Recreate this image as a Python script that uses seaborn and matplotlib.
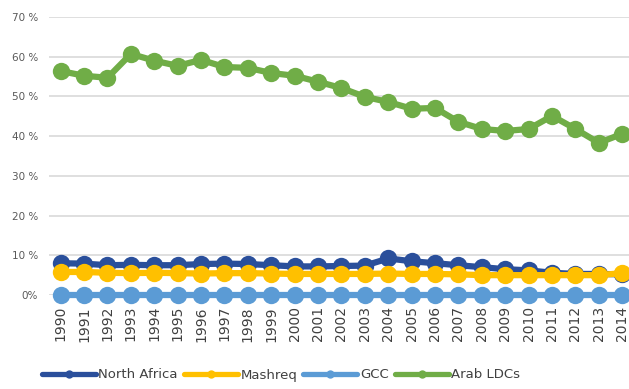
import matplotlib
matplotlib.use("Agg")
import matplotlib.pyplot as plt
import seaborn as sns
import pandas as pd
from matplotlib.lines import Line2D

years = list(range(1990, 2015))
north_africa = [8.0, 7.9, 7.5, 7.6, 7.5, 7.5, 7.8, 7.9, 7.8, 7.5, 7.2, 7.2, 7.3, 7.4,
                9.2, 8.5, 8.0, 7.5, 7.0, 6.5, 6.2, 5.6, 5.3, 5.3, 5.2]
mashreq = [5.8, 5.8, 5.6, 5.5, 5.6, 5.5, 5.4, 5.5, 5.5, 5.4, 5.3, 5.3, 5.3, 5.3,
           5.4, 5.3, 5.3, 5.2, 5.0, 5.0, 5.0, 5.0, 5.0, 5.0, 5.5]
gcc = [0.0] * 25
arab_ldcs = [56.4, 55.2, 54.7, 60.7, 59.0, 57.7, 59.2, 57.4, 57.2, 55.9, 55.2, 53.7,
             52.1, 49.9, 48.6, 46.9, 47.1, 43.6, 41.8, 41.3, 41.8, 45.1, 41.8, 38.3, 40.6]

series_names = ["North Africa", "Mashreq", "GCC", "Arab LDCs"]
series_values = [north_africa, mashreq, gcc, arab_ldcs]
colors = ["#2A4F9B", "#FFC000", "#5B9BD5", "#70AD47"]
y_ticks = [0, 10, 20, 30, 40, 50, 60, 70]

rows = []
for name, vals in zip(series_names, series_values):
    for i, v in enumerate(vals):
        rows.append({"idx": i, "year": str(years[i]), "value": v, "series": name})
df = pd.DataFrame(rows)

sns.set_style("white")
fig = plt.figure(figsize=(6.29, 3.89), dpi=100)
ax = fig.add_axes([49 / 629, (389 - 295) / 389, 585 / 629, 278 / 389])

for name, col in zip(series_names, colors):
    sub = df[df["series"] == name]
    sns.lineplot(data=sub, x="idx", y="value", ax=ax, color=col, linewidth=4.5,
                 marker="o", markersize=12.5, markeredgewidth=0, clip_on=False,
                 legend=False)

ax.set_xlim(-0.5, 24.5)
ax.set_ylim(0, 70)
ax.set_yticks(y_ticks)
ax.set_yticklabels([f"{t} %" if t else "0%" for t in y_ticks], fontsize=7.5, color="#595959")
ax.set_xticks(range(len(years)))
ax.set_xticklabels([str(y) for y in years], rotation=90, fontsize=10, color="#404040")
ax.tick_params(axis="y", length=0, pad=8)
ax.tick_params(axis="x", length=0, pad=8)
ax.grid(axis="y", color="#D9D9D9", linewidth=1.2)
ax.set_axisbelow(True)
for s in ax.spines.values():
    s.set_visible(False)
ax.set_xlabel("")
ax.set_ylabel("")

handles = [Line2D([0], [0], color=c, linewidth=3.8, marker="o", markersize=6,
                  markeredgewidth=0) for c in colors]
fig.legend(handles, series_names, loc="center", bbox_to_anchor=(281 / 629, 14 / 389),
           ncol=4, frameon=False, fontsize=9.5, handlelength=4.1, handletextpad=0.2,
           columnspacing=0.45, labelcolor="#404040")

fig.savefig("out.png", dpi=100)
